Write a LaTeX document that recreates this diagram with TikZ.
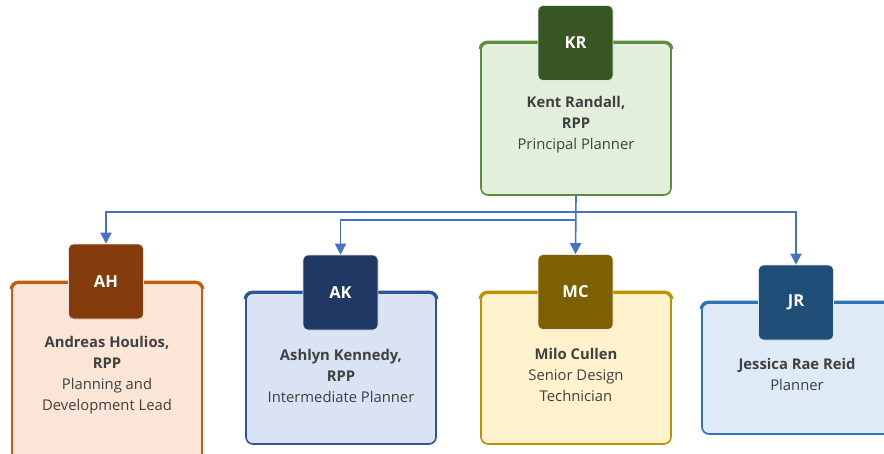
\documentclass[tikz,border=0pt]{standalone}
\usepackage{fontspec}
\setmainfont{Open Sans}
\usetikzlibrary{arrows.meta}
\definecolor{conn}{HTML}{4472C4}
\definecolor{txt}{HTML}{404040}
\definecolor{krD}{HTML}{375623}\definecolor{krF}{HTML}{E2EFDA}\definecolor{krB}{HTML}{5E8C3E}
\definecolor{ahD}{HTML}{843C0C}\definecolor{ahF}{HTML}{FBE5D6}\definecolor{ahB}{HTML}{C55A11}
\definecolor{akD}{HTML}{203864}\definecolor{akF}{HTML}{DAE3F3}\definecolor{akB}{HTML}{2F5597}
\definecolor{mcD}{HTML}{7F6000}\definecolor{mcF}{HTML}{FFF2CC}\definecolor{mcB}{HTML}{BF9000}
\definecolor{jrD}{HTML}{1F4E79}\definecolor{jrF}{HTML}{DEEBF7}\definecolor{jrB}{HTML}{2E75B6}
\tikzset{
  card/.style={draw=#1B, fill=#1F, line width=1.6pt, rounded corners=7pt, minimum width=190pt, inner sep=0pt},
  badge/.style={draw=white!85!#1D, fill=#1D, line width=0.6pt, rounded corners=5pt, minimum width=75pt, minimum height=75pt,
    inner sep=0pt, text=white, font=\fontsize{16.5}{20}\selectfont\bfseries},
  info/.style={align=center, text=txt, font=\fontsize{14.8}{21}\selectfont, inner sep=0pt},
  connector/.style={draw=conn, line width=1.6pt, -{Triangle[length=11pt,width=11pt]}},
}
\newcommand{\topedge}[2]{%
  \draw[#2B, line width=3pt, rounded corners=7pt] ([yshift=-7pt]#1.north west) -- (#1.north west) -- (#1.north east) -- ([yshift=-7pt]#1.north east);}
\begin{document}
\begin{tikzpicture}[x=1pt,y=-1pt]
\useasboundingbox (0,0) rectangle (884,453);
% cards
\node[card=kr, minimum height=152pt] (kr) at (576,119) {};
\node[card=ah, minimum height=190pt] (ah) at (107,378) {};
\node[card=ak, minimum height=151pt] (ak) at (341,368.5) {};
\node[card=mc, minimum height=151pt] (mc) at (576,368.5) {};
\node[card=jr, minimum height=131pt] (jr) at (797,368.5) {};
\topedge{kr}{kr}\topedge{ah}{ah}\topedge{ak}{ak}\topedge{mc}{mc}\topedge{jr}{jr}
% badges
\node[badge=kr] (krb) at (575.5,43) {KR};
\node[badge=ah] (ahb) at (106,281.5) {AH};
\node[badge=ak] (akb) at (340.5,292.5) {AK};
\node[badge=mc] (mcb) at (575.5,292) {MC};
\node[badge=jr] (jrb) at (796,302.5) {JR};
% texts
\node[info] (krt) at (576,125) {\textbf{Kent Randall,}\\\textbf{RPP}\\Principal Planner};
\node[info] (aht) at (107,375) {\textbf{Andreas Houlios,}\\\textbf{RPP}\\Planning and\\Development Lead};
\node[info] (akt) at (341,375.5) {\textbf{Ashlyn Kennedy,}\\\textbf{RPP}\\Intermediate Planner};
\node[info] (mct) at (576,374.5) {\textbf{Milo Cullen}\\Senior Design\\Technician};
\node[info] (jrt) at (797,374.5) {\textbf{Jessica Rae Reid}\\Planner};
% connectors
\coordinate (j1) at ([yshift=-16pt]kr.south);
\coordinate (j2) at ([yshift=-24pt]kr.south);
\draw[connector] (kr.south) -- (mcb.north);
\draw[connector] (j1) -| (ahb.north);
\draw[connector] (j1) -| (jrb.north);
\draw[connector] (j2) -| (akb.north);
\end{tikzpicture}
\end{document}
